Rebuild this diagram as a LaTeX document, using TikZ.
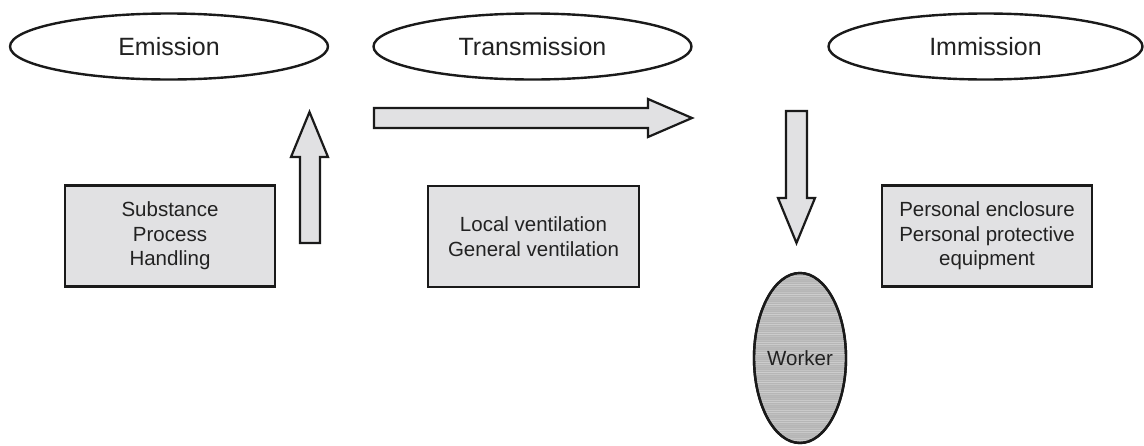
\documentclass[tikz,border=0pt]{standalone}
\usepackage{fontspec}
\setmainfont{Liberation Sans}
\usetikzlibrary{shapes.geometric}
\definecolor{inkc}{HTML}{1A1A1A}
\definecolor{textc}{HTML}{222222}
\definecolor{panelc}{HTML}{E1E1E3}
\definecolor{workerc}{HTML}{B6B6B6}
\tikzset{
  stage/.style={ellipse, draw=inkc, line width=2.4pt, fill=white, inner sep=0pt,
    minimum width=318pt, minimum height=66pt, text=textc,
    font=\fontsize{25}{30}\selectfont},
  panel/.style={rectangle, draw=inkc, line width=2.4pt, fill=panelc, inner sep=0pt,
    minimum width=210pt, minimum height=101pt, align=center, text=textc,
    font=\fontsize{20.5}{24.5}\selectfont},
  blockarrow/.style={draw=inkc, line width=2.2pt, fill=panelc, line join=miter},
  person/.style={ellipse, draw=inkc, line width=2.4pt, fill=workerc, inner sep=0pt,
    minimum width=92pt, minimum height=170pt, text=textc,
    font=\fontsize{20.5}{24.5}\selectfont},
}
\begin{document}
\begin{tikzpicture}[x=1pt,y=-1pt]
  \useasboundingbox (0,0) rectangle (1144,445);

  % the three stages
  \node[stage] (emission) at (169,46.5) {Emission};
  \node[stage] (transmission) at (532.5,46.5) {Transmission};
  \node[stage, minimum width=314pt] (immission) at (985.5,46.5) {Immission};

  % measures at each stage
  \node[panel] (source) at (170,236) {Substance\\Process\\Handling};
  \node[panel, minimum width=211pt] (ventilation) at (533.5,236.5) {Local ventilation\\General ventilation};
  \node[panel] (personal) at (987,236) {Personal enclosure\\Personal protective\\equipment};

  % the exposed worker, with a brushed shading
  \node[person] (worker) at (800,358) {};
  \begin{scope}
    \clip (worker.center) ellipse [x radius=45pt, y radius=84pt];
    \foreach \yy in {274,276,...,442} {
      \pgfmathsetmacro{\op}{0.18+0.14*sin(37*\yy)}
      \draw[white, opacity=\op, line width=0.7pt] (750,\yy) -- (850,\yy);
    }
  \end{scope}
  \draw[inkc, line width=2.4pt] (worker.center) ellipse [x radius=46pt, y radius=85pt];
  \node[text=textc, font=\fontsize{20.5}{24.5}\selectfont] (workerlabel) at (worker.center) {Worker};

  % block arrows: release upwards, spread to the right, uptake downwards
  \draw[blockarrow] (300,243) -- (300,157) -- (291,157) -- (309.5,112)
    -- (328,157) -- (320,157) -- (320,243) -- cycle;
  \draw[blockarrow] (374,108) -- (648,108) -- (648,99) -- (692,118)
    -- (648,137) -- (648,128) -- (374,128) -- cycle;
  \draw[blockarrow] (786,111) -- (807,111) -- (807,198) -- (815,198)
    -- (796.5,243) -- (778,198) -- (786,198) -- cycle;
\end{tikzpicture}
\end{document}
